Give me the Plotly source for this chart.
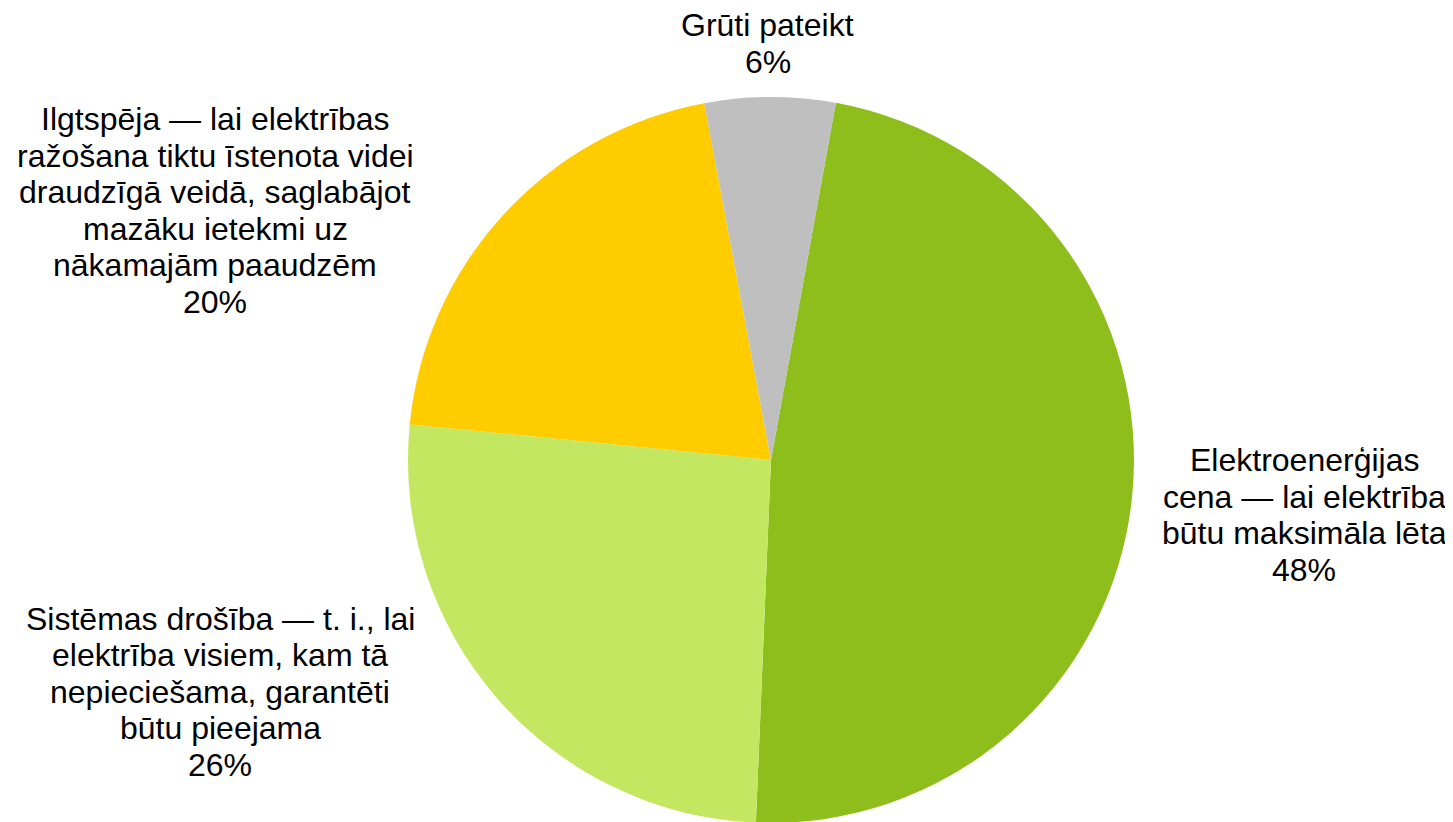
import plotly.graph_objects as go

# slices in clockwise order from the top
labels = [
    "Elektroenerģijas<br>cena — lai elektrība<br>būtu maksimāla lēta",
    "Sistēmas drošība — t. i., lai<br>elektrība visiem, kam tā<br>nepieciešama, garantēti<br>būtu pieejama",
    "Ilgtspēja — lai elektrības<br>ražošana tiktu īstenota videi<br>draudzīgā veidā, saglabājot<br>mazāku ietekmi uz<br>nākamajām paaudzēm",
    "Grūti pateikt",
]
values = [47.8, 25.9, 20.5, 5.8]
pct_labels = ["48%", "26%", "20%", "6%"]
colors = ["#8DBE1C", "#C4E761", "#FFCC00", "#BFBFBF"]

# label block centres (paper coords)
label_pos = [(0.892, 0.424), (0.146, 0.181), (0.1425, 0.844), (0.523, 1.074)]
line_gap = 36.5

fig = go.Figure(go.Pie(
    labels=labels,
    values=values,
    marker=dict(colors=colors, line=dict(width=0)),
    sort=False,
    direction="clockwise",
    rotation=10.3,
    textinfo="none",
    hoverinfo="label+percent",
    showlegend=False,
    domain=dict(x=[0.0502, 1], y=[0, 1]),
))

for lab, pct, (px, py) in zip(labels, pct_labels, label_pos):
    lines = lab.split("<br>") + [pct]
    n = len(lines)
    for i, line in enumerate(lines):
        fig.add_annotation(
            x=px, y=py, xref="paper", yref="paper",
            xanchor="center", yanchor="middle",
            yshift=-line_gap * (i - (n - 1) / 2),
            text=line, showarrow=False,
            font=dict(family="Liberation Sans, Arial", size=32, color="#000000"),
        )

fig.update_layout(
    width=1453, height=822,
    margin=dict(l=0, r=0, t=89, b=7),
    paper_bgcolor="white",
    plot_bgcolor="white",
)

fig.write_html("out.html")
